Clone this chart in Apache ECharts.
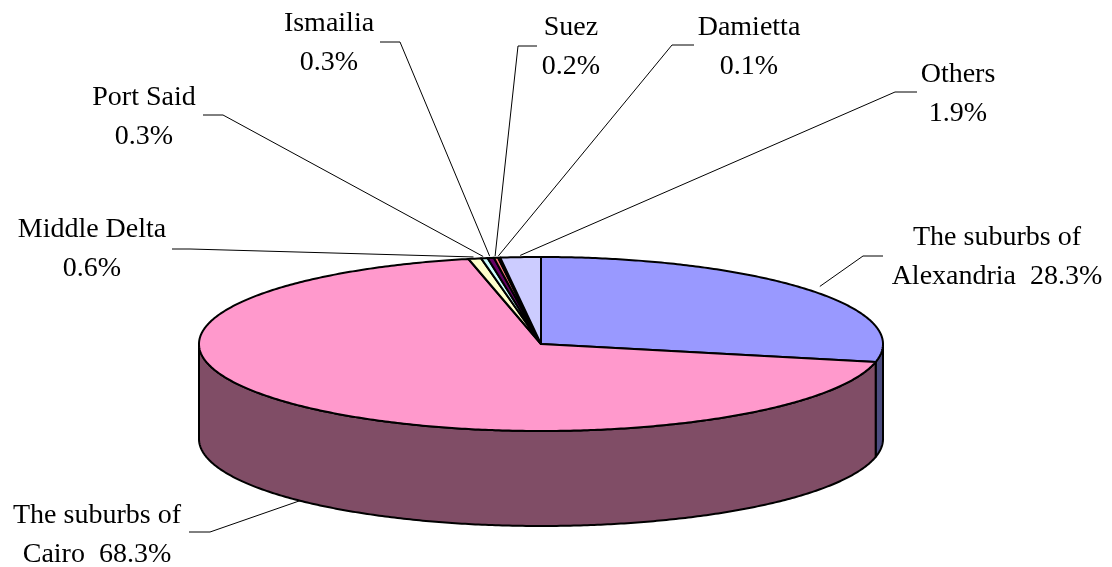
<!DOCTYPE html>
<html>
<head>
<meta charset="utf-8">
<style>
  html, body { margin: 0; padding: 0; background: #ffffff; }
  #chart { width: 1112px; height: 567px; }
</style>
<script src="https://cdn.jsdelivr.net/npm/echarts@6/dist/echarts.min.js"></script>
</head>
<body>
<div id="chart"></div>
<script>
// Regions and their shares of the total (%)
const regionNames = [
  'The suburbs of\nAlexandria',
  'The suburbs of\nCairo',
  'Middle Delta',
  'Port Said',
  'Ismailia',
  'Suez',
  'Damietta',
  'Others'
];
const shares = [28.3, 68.3, 0.6, 0.3, 0.3, 0.2, 0.1, 1.9];

// Slice colours: top face and the shaded outer wall
const topColors  = ['#9999FF', '#FF99CC', '#FFFFCC', '#CCFFFF', '#660066', '#FF8080', '#0066CC', '#CCCCFF'];
const sideColors = ['#4D4D80', '#804D66', '#808066', '#668080', '#330033', '#804040', '#003366', '#666680'];

// Label placement: text block centre, leader elbow and leader end beside the text
const labelCenter = [[997, 257], [97, 535], [92, 249], [144, 117], [329, 43], [571, 47], [749, 47], [958, 94]];
const leaderElbow = [[863, 256], [210, 532], [190, 249], [223, 115], [400, 42], [518, 46], [672, 45], [895, 92]];
const leaderEnd   = [[883, 256], [189, 532], [172, 249], [203, 115], [380, 42], [537, 46], [694, 45], [917, 92]];

// Pie geometry (pixels)
const CX = 541, CY = 344, RX = 342, RY = 87, DEPTH = 95;

const total = shares.reduce((a, b) => a + b, 0);
const startFrac = [];
shares.reduce((acc, v, i) => { startFrac[i] = acc; return acc + v / total; }, 0);

function pt(theta, dy) {
  return [CX + RX * Math.sin(theta), CY - RY * Math.cos(theta) + (dy || 0)];
}
function arc(a0, a1, dy) {
  const pts = [];
  const n = Math.max(2, Math.ceil(Math.abs(a1 - a0) / 0.01));
  for (let k = 0; k <= n; k++) pts.push(pt(a0 + (a1 - a0) * k / n, dy));
  return pts;
}

function labelText(i, v) {
  const name = regionNames[i];
  const pct = v.toFixed(1) + '%';
  return name.indexOf('\n') >= 0 ? name + '  ' + pct : name + '\n' + pct;
}

function renderItem(params, api) {
  const i = params.dataIndex;
  const v = api.value(0);
  const a0 = startFrac[i] * Math.PI * 2;
  const a1 = a0 + v / total * Math.PI * 2;
  const children = [];

  // Outer wall: only the front half (from 90deg to 270deg clockwise from top) is visible
  const s = Math.max(a0, Math.PI / 2), e = Math.min(a1, Math.PI * 1.5);
  if (e > s) {
    const pts = arc(s, e, 0).concat(arc(e, s, DEPTH));
    children.push({
      type: 'polygon',
      shape: { points: pts },
      style: { fill: sideColors[i], stroke: '#000000', lineWidth: 2, lineJoin: 'round' },
      z2: 1
    });
  }

  // Top face
  const top = [[CX, CY]].concat(arc(a0, a1, 0));
  children.push({
    type: 'polygon',
    shape: { points: top },
    style: { fill: topColors[i], stroke: '#000000', lineWidth: 2, lineJoin: 'round' },
    z2: 2
  });

  // Leader line from the slice to its label
  const mid = (a0 + a1) / 2;
  const onWall = mid > Math.PI / 2 && mid < Math.PI * 1.5 && (a1 - a0) > 1;
  const k = (a1 - a0) > 0.5 ? 1.05 : 1.02;
  const anchor = onWall ? pt(mid, DEPTH) : [CX + RX * k * Math.sin(mid), CY - RY * k * Math.cos(mid)];
  children.push({
    type: 'polyline',
    shape: { points: [anchor, leaderElbow[i], leaderEnd[i]] },
    style: { stroke: '#000000', lineWidth: 1, fill: null },
    z2: 3
  });

  children.push({
    type: 'text',
    style: {
      text: labelText(i, v),
      x: labelCenter[i][0],
      y: labelCenter[i][1],
      align: 'center',
      verticalAlign: 'middle',
      fontFamily: '"Liberation Serif", "Times New Roman", serif',
      fontSize: 28,
      lineHeight: 39,
      fill: '#000000'
    },
    z2: 4
  });

  return { type: 'group', children: children };
}

const chart = echarts.init(document.getElementById('chart'), null, { renderer: 'canvas' });
chart.setOption({
  backgroundColor: '#ffffff',
  animation: false,
  series: [{
    type: 'custom',
    coordinateSystem: 'none',
    renderItem: renderItem,
    data: shares.map(v => [v])
  }]
});
</script>
</body>
</html>
